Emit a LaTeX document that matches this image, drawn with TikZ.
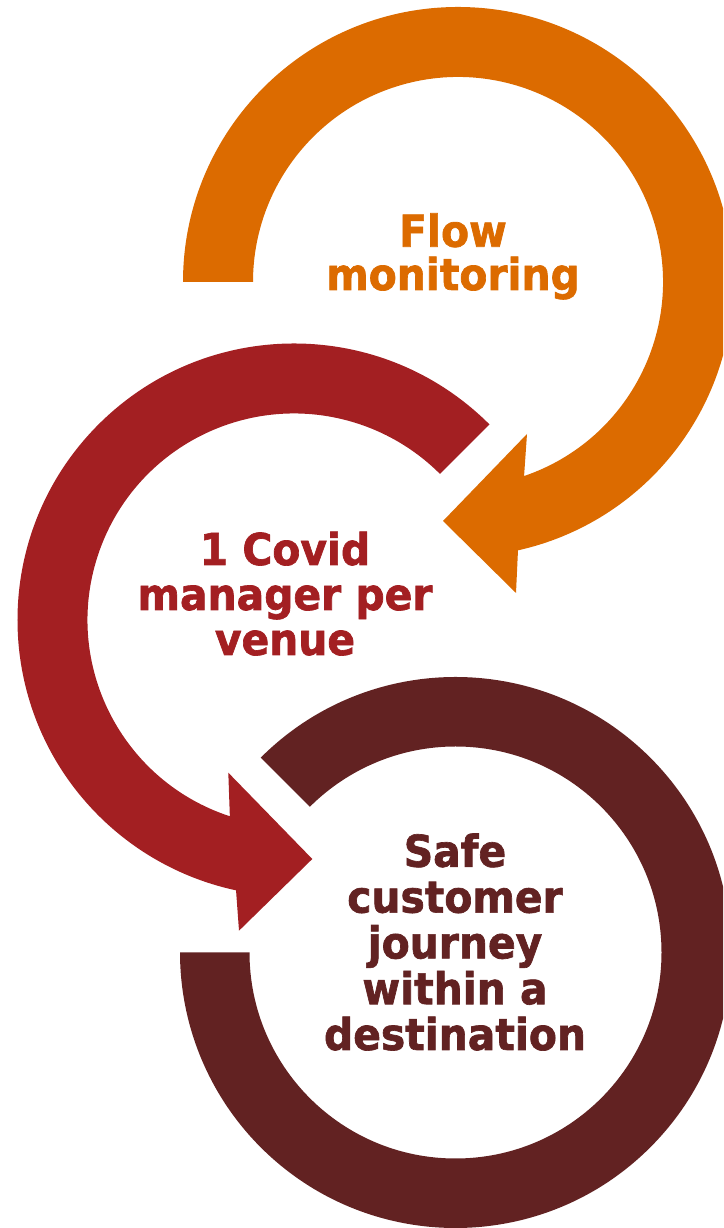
\documentclass[tikz,border=0pt]{standalone}
\usepackage{fontspec}
\newfontfamily\lblfont[FakeStretch=0.93,FakeBold=1.5]{DejaVu Sans}
\definecolor{cOrange}{HTML}{DC6B00}
\definecolor{cRed}{HTML}{A31F22}
\definecolor{cDark}{HTML}{622222}
\begin{document}
\begin{tikzpicture}[x=1pt,y=1pt,
  lbl/.style={align=center, anchor=base, inner sep=0pt,
    font=\lblfont\bfseries\fontsize{43.9pt}{45pt}\selectfont}]
\useasboundingbox (0,0) rectangle (723,1228);
\clip (0,0) rectangle (723,1228);
\coordinate (oc) at (458,946);
\coordinate (rc) at (294,608);
\coordinate (dc) at (455.5,275.5);
% dark ring (bottom)
\fill[cDark] ([shift={(dc)}]135:275.5pt) arc[start angle=135, end angle=-180, radius=275.5pt]
  -- ([shift={(dc)}]180:206pt) arc[start angle=-180, end angle=135, radius=206pt] -- cycle;
% red arrow (middle)
\coordinate (rb1) at (239,297.3);
\coordinate (rtip) at (312.3,369);
\coordinate (rb2) at (228.3,455.3);
\fill[cRed] ([shift={(rc)}]45:276.5pt) arc[start angle=45, end angle=257.9, radius=276.5pt]
  -- (rb1) -- (rtip) -- (rb2)
  -- ([shift={(rc)}]251.9:206.5pt) arc[start angle=251.9, end angle=45, radius=206.5pt] -- cycle;
% orange arrow (top)
\coordinate (ob1) at (516,635);
\coordinate (otip) at (443,707);
\coordinate (ob2) at (527,794);
\fill[cOrange] ([shift={(oc)}]180:275pt) arc[start angle=180, end angle=-77.4, radius=275pt]
  -- (ob1) -- (otip) -- (ob2)
  -- ([shift={(oc)}]-71.2:205pt) arc[start angle=-71.2, end angle=180, radius=205pt] -- cycle;
% labels
\node[lbl, text=cOrange, font=\lblfont\bfseries\fontsize{43.9pt}{43.3pt}\selectfont] (flow) at (453,938) {Flow\\monitoring};
\node[lbl, text=cRed] (covid) at (285,573) {1 Covid\\manager per\\venue};
\node[lbl, text=cDark, font=\lblfont\bfseries\fontsize{43.9pt}{45.8pt}\selectfont] (safe) at (455,178) {Safe\\customer\\journey\\within a\\destination};
\end{tikzpicture}
\end{document}
